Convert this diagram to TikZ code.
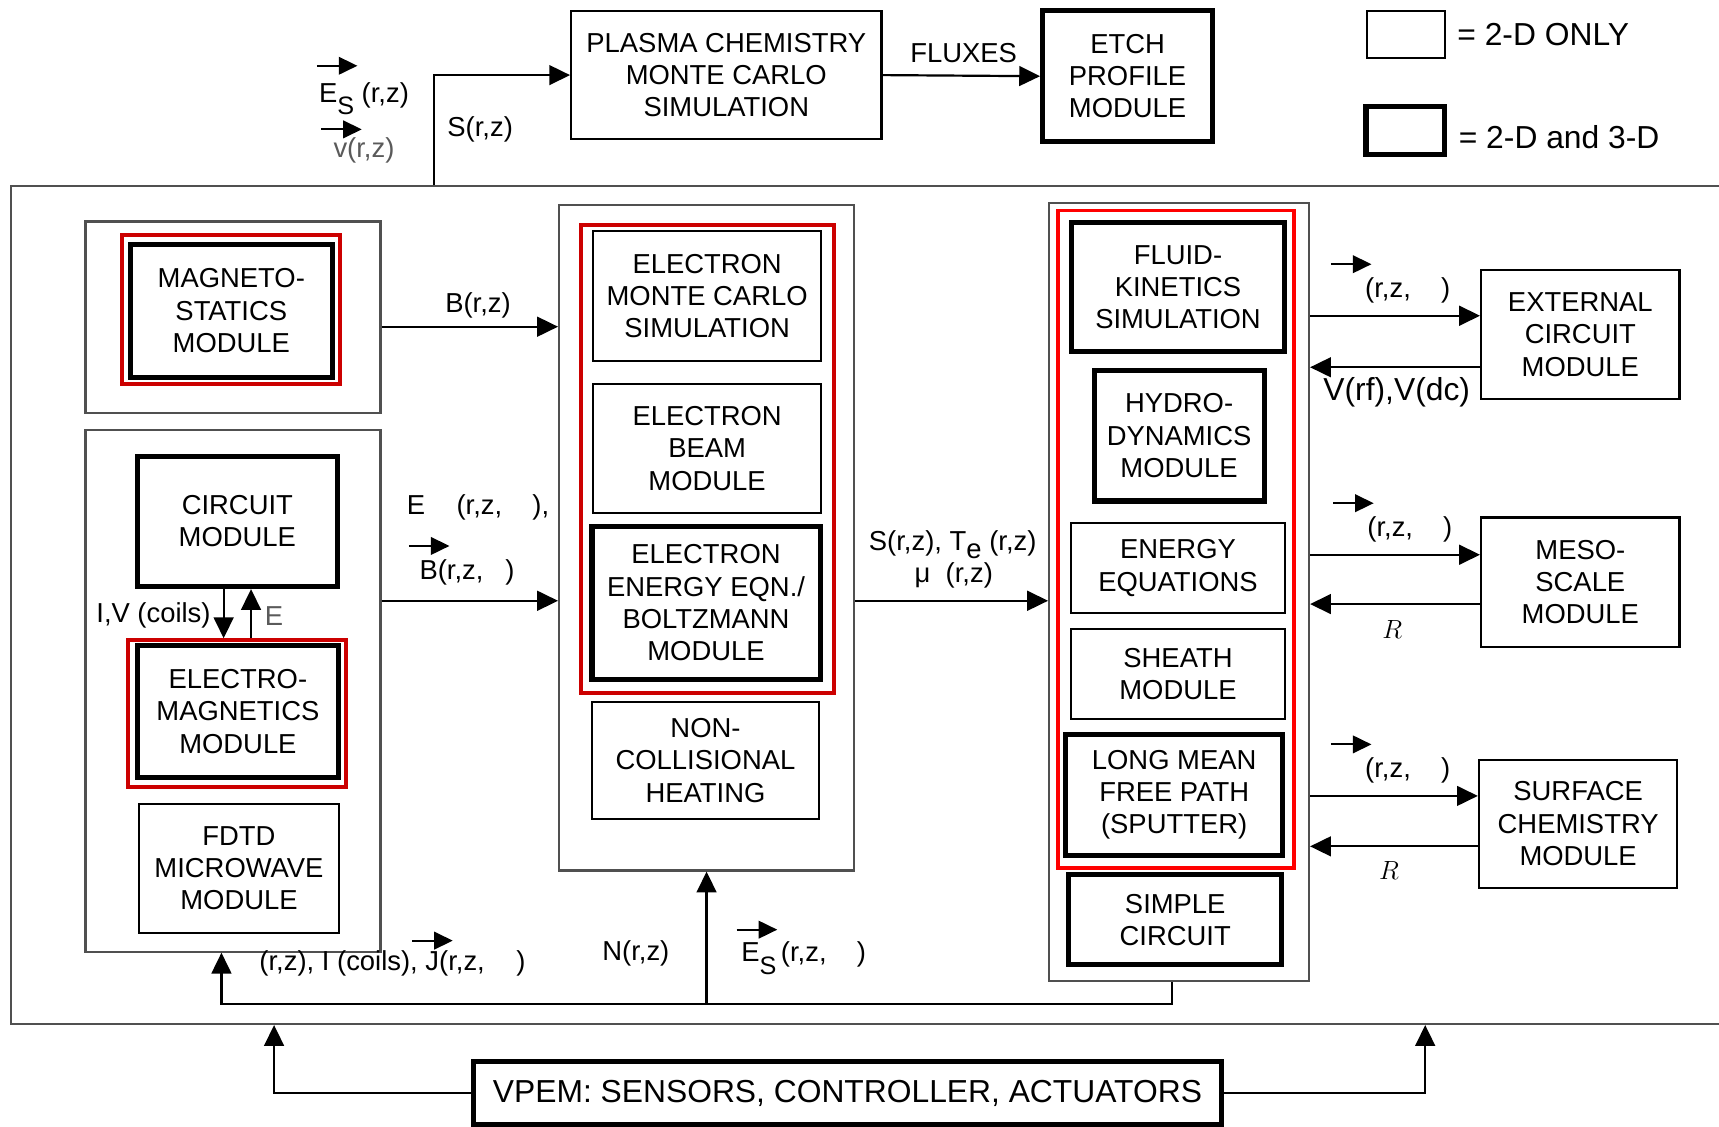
\documentclass[tikz,border=0pt]{standalone}
\usepackage{fontspec}
\setmainfont{Liberation Sans}
\usetikzlibrary{arrows.meta,positioning,calc}
\definecolor{frameg}{HTML}{505050}
\definecolor{hlred}{HTML}{CC0000}
\definecolor{hlbright}{HTML}{FF0000}
\definecolor{softtxt}{HTML}{5A5A5A}
\newcommand{\vecarr}[1]{\draw[vec] #1 -- ++(37,0);}
\newcommand{\subS}{\raisebox{-5.5pt}{\fontsize{11.5}{11.5}\selectfont S}}

\begin{document}
\begin{tikzpicture}[x=0.5pt,y=-0.5pt,
    every node/.style={font=\fontsize{12.5}{14.75}\selectfont,inner sep=0pt},
    sz/.style 2 args={minimum width=#1*0.5pt,minimum height=#2*0.5pt},
    mod/.style={draw,line width=1pt,align=center},
    mod3d/.style={draw,line width=2.3pt,align=center},
    grp/.style={draw=frameg,line width=1pt},
    hilite/.style={draw=hlred,line width=1.8pt},
    hilite2/.style={draw=hlbright,line width=1.8pt},
    big/.style={font=\fontsize{14.5}{17}\selectfont},
    arr/.style={-{Triangle[length=9.5pt,width=9pt]},line width=1pt},
    vec/.style={-{Triangle[length=8.5pt,width=8pt]},line width=1pt}
]
\useasboundingbox (0,0) rectangle (1568,1028);

\node[mod,sz={283}{117}] (plasma) at (662.5,68.5) {PLASMA CHEMISTRY\\MONTE CARLO\\SIMULATION};
\node[mod3d,sz={155}{119}] (etch) at (1028.5,69.5) {ETCH\\PROFILE\\MODULE};
\node[mod,sz={71}{43}] (key2d) at (1282.5,31.5) {};
\node[mod3d,sz={72}{44}] (key3d) at (1282,119) {};
\node[big,right=5pt of key2d] (key2dtxt) {= 2-D ONLY};
\node[big,right=5pt of key3d,yshift=-3pt] (key3dtxt) {= 2-D and 3-D};

\node[grp,sz={1570}{764}] (frame) at (795,552) {};

\node[grp,sz={269}{175}] (magGrp) at (212.5,289.5) {};
\node[hilite,sz={199}{136}] (magRed) at (210.5,282) {};
\node[mod3d,sz={184}{121}] (mag) at (211,283.5) {MAGNETO-\\STATICS\\MODULE};

\node[grp,sz={269}{476}] (emGrp) at (212.5,630) {};
\node[mod3d,sz={183}{119}] (circ) at (216.5,475.5) {CIRCUIT\\MODULE};
\node[hilite,sz={199}{134}] (emRed) at (216.5,651) {};
\node[mod3d,sz={184}{120}] (em) at (217,649) {ELECTRO-\\MAGNETICS\\MODULE};
\node[mod,sz={182}{118}] (fdtd) at (218,792) {FDTD\\MICROWAVE\\MODULE};

\node[grp,sz={269}{607}] (midGrp) at (644.5,490.5) {};
\node[hilite,sz={231}{427}] (midRed) at (645.5,418.5) {};
\node[mod,sz={208}{118}] (emc) at (645,270) {ELECTRON\\MONTE CARLO\\SIMULATION};
\node[mod,sz={208}{118}] (ebeam) at (645,409) {ELECTRON\\BEAM\\MODULE};
\node[mod3d,sz={208}{140}] (eeqn) at (644,550) {ELECTRON\\ENERGY EQN./\\BOLTZMANN\\MODULE};
\node[mod,sz={207}{107}] (nch) at (643.5,693.5) {NON-\\COLLISIONAL\\HEATING};

\node[grp,sz={237}{710}] (rGrp) at (1075.5,540) {};
\node[hilite2,sz={215}{600}] (rRed) at (1072.5,492) {};
\node[mod3d,sz={195}{118}] (fk) at (1074.5,262) {FLUID-\\KINETICS\\SIMULATION};
\node[mod3d,sz={155}{119}] (hydro) at (1075.5,397.5) {HYDRO-\\DYNAMICS\\MODULE};
\node[mod,sz={195}{82}] (energy) at (1074.5,518) {ENERGY\\EQUATIONS};
\node[mod,sz={195}{82}] (sheath) at (1074.5,615) {SHEATH\\MODULE};
\node[mod3d,sz={198}{110}] (lmfp) at (1071,725) {LONG MEAN\\FREE PATH\\(SPUTTER)};
\node[mod3d,sz={194}{82}] (simple) at (1072,839) {SIMPLE\\CIRCUIT};

\node[mod,sz={181}{118}] (ext) at (1441.5,305) {EXTERNAL\\CIRCUIT\\MODULE};
\node[mod,sz={181}{118}] (meso) at (1441.5,531) {MESO-\\SCALE\\MODULE};
\node[mod,sz={181}{117}] (surf) at (1439.5,751.5) {SURFACE\\CHEMISTRY\\MODULE};

\node[mod3d,big,sz={682}{58}] (vpem) at (773,997) {VPEM: SENSORS, CONTROLLER, ACTUATORS};

\node (fluxes) at (879,48) {FLUXES};
\node (srz) at (438,118) {S(r,z)};
\node (esrz) at (332,90) {E\subS\ (r,z)};
\node[text=softtxt] (vrz) at (332,137) {v(r,z)};
\node (brz) at (436,279) {B(r,z)};
\node (erzt) at (436,463) {E\hspace{1.15em}(r,z,\hspace{1.1em}),};
\node (brzt) at (426,522) {B(r,z,\hspace{0.8em})};
\node (ste) at (869,497) {S(r,z), T\raisebox{-3.5pt}{e} (r,z)};
\node (murz) at (870,525) {μ\ \ (r,z)};
\node (extin) at (1284,265) {(r,z,\hspace{1.1em})};
\node[big] (vrfdc) at (1274,358) {V(rf),V(dc)};
\node (mesoin) at (1286,483) {(r,z,\hspace{1.1em})};
\node (mesoR) at (1270,574) {$R$};
\node (surfin) at (1284,703) {(r,z,\hspace{1.1em})};
\node (surfR) at (1267,794) {$R$};
\node (ivc) at (140,561) {I,V (coils)};
\node[text=softtxt] (elbl) at (250,562) {E};
\node (jrz) at (358,879) {(r,z), I (coils), J(r,z,\hspace{1.15em})};
\node (nrz) at (580,870) {N(r,z)};
\node (esrzt) at (733,874) {E\subS\,(r,z,\hspace{1.1em})};

\vecarr{(289,60)}
\vecarr{(293,118)}
\vecarr{(373,498)}
\vecarr{(1214,241)}
\vecarr{(1216,459)}
\vecarr{(1214,679)}
\vecarr{(376,858)}
\vecarr{(672,848)}

\coordinate (xS) at (396,0);
\coordinate (rowB) at (0,298);
\coordinate (rowE) at (0,548);
\coordinate (bus) at (0,916);
\coordinate (xJ) at (202,0);
\coordinate (xL) at (250,0);
\coordinate (xR) at (1300,0);
\coordinate (ivtop) at ([xshift=-6.25pt]circ.south);
\coordinate (etop) at ([xshift=6.25pt]circ.south);
\coordinate (extA) at ([yshift=8.5pt]ext.west);
\coordinate (extB) at ([yshift=-15pt]ext.west);
\coordinate (mesoA) at ([yshift=12.5pt]meso.west);
\coordinate (mesoB) at ([yshift=-10pt]meso.west);
\coordinate (surfA) at ([yshift=12.75pt]surf.west);
\coordinate (surfB) at ([yshift=-10.25pt]surf.west);

\draw[arr] (frame.north -| xS) |- (plasma.west);
\draw[arr] (plasma.east) -- (etch.west);
\draw[arr] (magGrp.east |- rowB) -- (midGrp.west |- rowB);
\draw[arr] (emGrp.east |- rowE) -- (midGrp.west |- rowE);
\draw[arr] (midGrp.east |- rowE) -- (rGrp.west |- rowE);
\draw[arr] (ivtop) -- (ivtop |- emRed.north);
\draw[arr] (etop |- emRed.north) -- (etop);
\draw[arr] (rGrp.east |- extA) -- (extA);
\draw[arr] (extB) -- (rGrp.east |- extB);
\draw[arr] (rGrp.east |- mesoA) -- (mesoA);
\draw[arr] (mesoB) -- (rGrp.east |- mesoB);
\draw[arr] (rGrp.east |- surfA) -- (surfA);
\draw[arr] (surfB) -- (rGrp.east |- surfB);
\draw[arr] ([xshift=-3.25pt]rGrp.south) |- (xJ |- bus) -- (xJ |- emGrp.south);
\draw[arr] (midGrp.south |- bus) -- (midGrp.south);
\draw[arr] (vpem.west) -| (xL |- frame.south);
\draw[arr] (vpem.east) -| (xR |- frame.south);
\end{tikzpicture}
\end{document}
